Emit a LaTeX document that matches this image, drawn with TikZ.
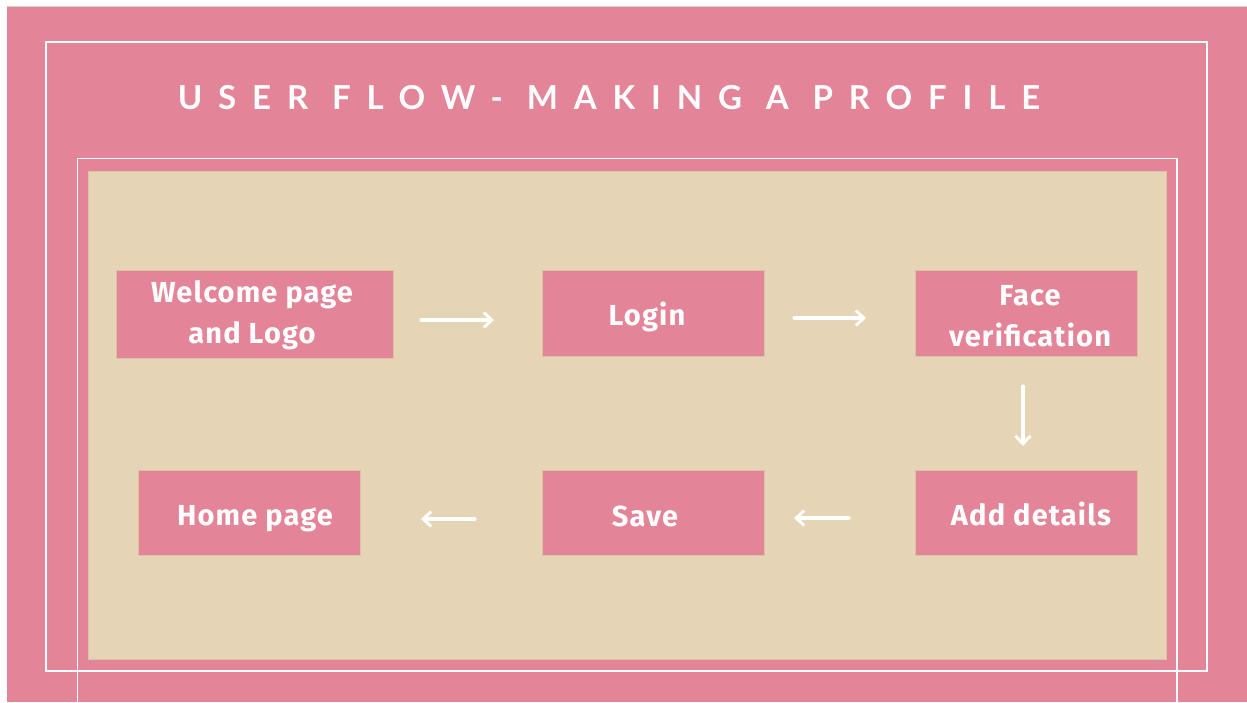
\documentclass[tikz,border=0pt]{standalone}
\usepackage{fontspec}
\setmainfont{Fira Sans}
\newfontfamily\titlefont[LetterSpace=48]{Lato}
\newfontfamily\boxfont[LetterSpace=4]{Fira Sans}
\usetikzlibrary{arrows.meta}
\definecolor{pinkbg}{HTML}{E48498}
\definecolor{beige}{HTML}{E5D4B6}
\definecolor{beigeedge}{HTML}{DDC2A8}
\tikzset{
  stepbox/.style={fill=pinkbg, draw=beigeedge, line width=0.6pt, anchor=north west, inner sep=0pt},
  steptext/.style={text=white, align=center, anchor=base, inner sep=0pt, font=\boxfont\fontsize{29}{41}\selectfont\bfseries},
  flow/.style={draw=white, line width=3.2pt, -{Straight Barb[length=8pt,width=15pt,line width=3pt]}, line cap=round},
  frame/.style={draw=white, line width=1.4pt}
}
\begin{document}
\begin{tikzpicture}[x=1pt,y=-1pt]
\useasboundingbox (0,0) rectangle (1247,702);
\fill[white] (0,0) rectangle (1247,702);
\fill[pinkbg] (7,7) rectangle (1246.5,702);
\draw[black!18, line width=1pt] (7,6.5) -- (1247,6.5);
% frames
\draw[frame] (46,42) rectangle (1207,671);
\draw[frame] (77.5,702) -- (77.5,158.5) -- (1177,158.5) -- (1177,702);
\fill[beige] (88,171) rectangle (1166,659);
\draw[beigeedge, line width=0.6pt] (88,171) rectangle (1166,659);
% title
\node[text=white, font=\titlefont\fontsize{33}{38}\selectfont\bfseries, anchor=base, inner sep=0pt] (title) at (609,109) {USER FLOW- MAKING A PROFILE};
% boxes
\node[stepbox, minimum width=277pt, minimum height=88pt] (welcome) at (116,270) {};
\node[steptext] (welcomet) at (252,343) {Welcome page\\and Logo};
\node[stepbox, minimum width=222pt, minimum height=86pt] (login) at (542,270) {};
\node[steptext] (logint) at (647,325) {Login};
\node[stepbox, minimum width=222pt, minimum height=86pt] (face) at (915,270) {};
\node[steptext] (facet) at (1030,346) {Face\\verification};
\node[stepbox, minimum width=222pt, minimum height=85pt] (add) at (915,470) {};
\node[steptext] (addt) at (1031,525) {Add details};
\node[stepbox, minimum width=222pt, minimum height=85pt] (save) at (542,470) {};
\node[steptext] (savet) at (645,526) {Save};
\node[stepbox, minimum width=222pt, minimum height=85pt] (home) at (138,470) {};
\node[steptext] (homet) at (255,525) {Home page};
% arrows
\coordinate (a1s) at (421,320); \coordinate (a1e) at (494,320);
\coordinate (a2s) at (794,318); \coordinate (a2e) at (866,318);
\coordinate (a3s) at (1023,386); \coordinate (a3e) at (1023,446);
\coordinate (a4s) at (849,518); \coordinate (a4e) at (794,518);
\coordinate (a5s) at (475,519); \coordinate (a5e) at (421,519);
\draw[flow] (a1s) -- (a1e);
\draw[flow] (a2s) -- (a2e);
\draw[flow] (a3s) -- (a3e);
\draw[flow] (a4s) -- (a4e);
\draw[flow] (a5s) -- (a5e);
\end{tikzpicture}
\end{document}
